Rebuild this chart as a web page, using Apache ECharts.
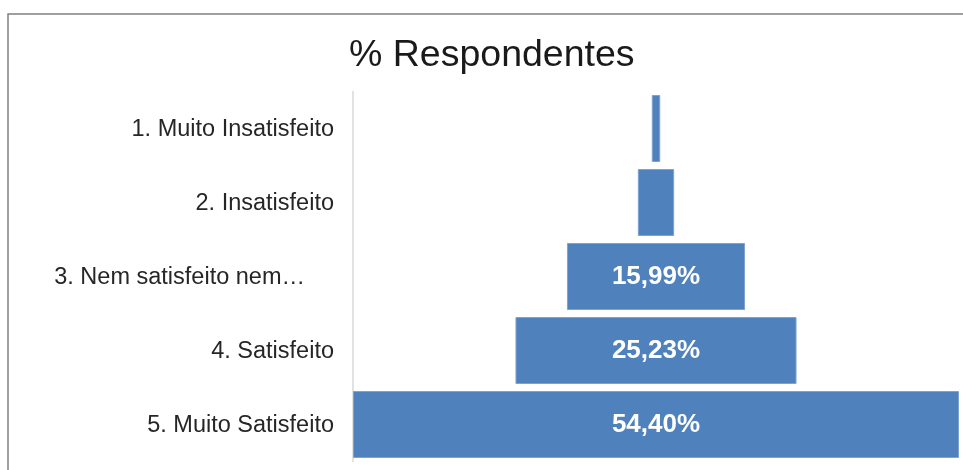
<!DOCTYPE html>
<html>
<head>
<meta charset="utf-8">
<title>% Respondentes</title>
<script src="https://cdn.jsdelivr.net/npm/echarts@6/dist/echarts.min.js"></script>
<style>
	html, body { margin: 0; padding: 0; background: #fff; }
	#chart { width: 963px; height: 470px; }
</style>
</head>
<body>
	<div id="chart"></div>
	<script>
		// 数据
		var categories = ['1. Muito Insatisfeito', '2. Insatisfeito', '3. Nem satisfeito nem…', '4. Satisfeito', '5. Muito Satisfeito'];
		var values = [0.76, 3.26, 15.99, 25.23, 54.40];
		var maxValue = 54.40;

		// 透明的偏移量，让条形居中
		var offsets = values.map(function (v) { return (maxValue - v) / 2; });

		var chart = echarts.init(document.getElementById('chart'));
		var option = {
			animation: false,
			title: {
				text: '% Respondentes',
				left: 344,
				top: 32,
				textStyle: {
					fontFamily: 'Liberation Sans, Arial, sans-serif',
					fontSize: 37.5,
					fontWeight: 'normal',
					color: '#1a1a1a'
				}
			},
			graphic: [{
				type: 'polyline',
				shape: { points: [[8, 470], [8, 14], [963, 14]] },
				style: { stroke: '#808080', lineWidth: 1.5, fill: null }
			}],
			grid: { left: 353, right: 4, top: 91.5, bottom: 8.5 },
			xAxis: {
				type: 'value',
				min: 0,
				max: maxValue,
				show: false
			},
			yAxis: {
				type: 'category',
				inverse: true,
				data: categories,
				axisLine: { show: true, lineStyle: { color: '#d9d9d9', width: 1.5 } },
				axisTick: { show: false },
				axisLabel: {
					margin: 19,
					fontFamily: 'Liberation Sans, Arial, sans-serif',
					fontSize: 23.5,
					color: '#262626',
					padding: [3, 0, 0, 0],
					formatter: function (v, i) {
						return i === 2 ? '{pad|' + v + '}' : v;
					},
					rich: {
						pad: {
							fontFamily: 'Liberation Sans, Arial, sans-serif',
							fontSize: 23.5,
							color: '#262626',
							padding: [0, 29, 0, 0]
						}
					}
				}
			},
			series: [
				{
					type: 'bar',
					stack: 'funil',
					silent: true,
					barCategoryGap: '9.5%',
					itemStyle: { color: 'transparent' },
					data: offsets
				},
				{
					type: 'bar',
					stack: 'funil',
					barCategoryGap: '9.5%',
					itemStyle: { color: '#4F81BD', borderColor: '#7fa3d0', borderWidth: 1 },
					label: {
						show: true,
						position: 'inside',
						fontFamily: 'Liberation Sans Narrow, Arial Narrow, Liberation Sans, sans-serif',
						fontWeight: 'bold',
						fontSize: 26,
						color: '#fff',
						formatter: function (p) {
							if (p.value < 10) return '';
							return p.value.toFixed(2).replace('.', ',') + '%';
						}
					},
					data: values
				}
			]
		};
		chart.setOption(option);
	</script>
</body>
</html>
